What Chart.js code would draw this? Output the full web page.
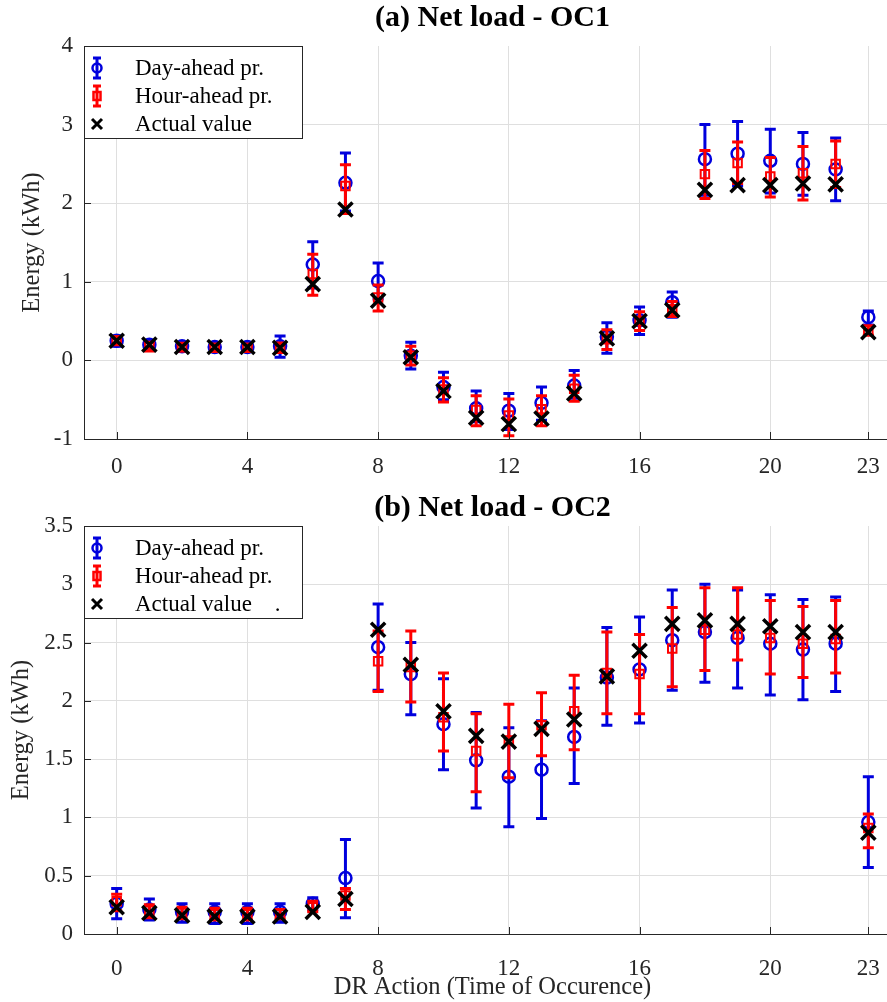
<!DOCTYPE html>
<html>
<head>
<meta charset="utf-8">
<script src="https://cdn.jsdelivr.net/npm/chart.js@4.4.1/dist/chart.umd.min.js"></script>
<style>
  html, body { margin: 0; padding: 0; background: #fff; overflow: hidden; }
  /* the original figure is cut off at the right, just past x = 23 */
  #wrap { position: relative; width: 887px; height: 1002px; overflow: hidden; }
  .panel { position: absolute; left: 0; width: 905px; }
  #panelA { top: 0; height: 500px; }
  #panelB { top: 480px; height: 522px; }
</style>
</head>
<body>
<div id="wrap">
  <div class="panel" id="panelA"><canvas id="chartA" width="905" height="500"></canvas></div>
  <div class="panel" id="panelB"><canvas id="chartB" width="905" height="522"></canvas></div>
</div>
<script>
// ─── data ─────────────────────────────────────────────
const HOURS   = [0, 1, 2, 3, 4, 5, 6, 7, 8, 9, 10, 11, 12, 13, 14, 15, 16, 17, 18, 19, 20, 21, 22, 23];
const X_TICKS = [0, 4, 8, 12, 16, 20, 23];
const LABELS_A = ['Day-ahead pr.', 'Hour-ahead pr.', 'Actual value'];
const LABELS_B = ['Day-ahead pr.', 'Hour-ahead pr.', 'Actual value    .'];

// (a) OC1
const OC1_DAY     = [0.25, 0.20, 0.18, 0.17, 0.17, 0.18, 1.22, 2.26, 1.01, 0.06, -0.34, -0.61, -0.64, -0.54, -0.32, 0.30, 0.51, 0.74, 2.56, 2.63, 2.54, 2.50, 2.43, 0.55];
const OC1_DAY_LO  = [0.18, 0.14, 0.13, 0.12, 0.12, 0.04, 0.92, 1.90, 0.78, -0.11, -0.50, -0.78, -0.88, -0.76, -0.48, 0.09, 0.33, 0.55, 2.10, 2.22, 2.13, 2.10, 2.03, 0.45];
const OC1_DAY_HI  = [0.31, 0.25, 0.23, 0.22, 0.22, 0.31, 1.51, 2.64, 1.24, 0.23, -0.15, -0.39, -0.42, -0.34, -0.13, 0.48, 0.68, 0.87, 3.00, 3.04, 2.94, 2.90, 2.83, 0.63];
const OC1_HOUR    = [0.25, 0.18, 0.17, 0.16, 0.16, 0.16, 1.10, 2.22, 0.80, 0.06, -0.37, -0.63, -0.70, -0.62, -0.36, 0.27, 0.50, 0.65, 2.37, 2.51, 2.34, 2.38, 2.50, 0.38];
const OC1_HOUR_LO = [0.20, 0.12, 0.12, 0.12, 0.12, 0.10, 0.83, 1.87, 0.63, -0.06, -0.53, -0.83, -0.96, -0.83, -0.52, 0.14, 0.38, 0.56, 2.06, 2.25, 2.08, 2.04, 2.20, 0.32];
const OC1_HOUR_HI = [0.30, 0.23, 0.21, 0.20, 0.20, 0.22, 1.35, 2.49, 0.96, 0.18, -0.22, -0.45, -0.49, -0.45, -0.19, 0.39, 0.62, 0.75, 2.67, 2.78, 2.58, 2.72, 2.79, 0.44];
const OC1_ACTUAL  = [0.25, 0.20, 0.17, 0.17, 0.17, 0.16, 0.97, 1.92, 0.76, 0.04, -0.39, -0.73, -0.81, -0.74, -0.42, 0.28, 0.50, 0.64, 2.17, 2.23, 2.23, 2.25, 2.24, 0.36];

// (b) OC2
const OC2_DAY     = [0.26, 0.21, 0.19, 0.19, 0.19, 0.19, 0.26, 0.48, 2.46, 2.23, 1.80, 1.49, 1.35, 1.41, 1.69, 2.20, 2.27, 2.52, 2.59, 2.54, 2.49, 2.44, 2.49, 0.96];
const OC2_DAY_LO  = [0.13, 0.12, 0.10, 0.09, 0.09, 0.10, 0.21, 0.14, 2.09, 1.88, 1.41, 1.08, 0.92, 0.99, 1.29, 1.79, 1.81, 2.09, 2.16, 2.11, 2.05, 2.01, 2.08, 0.57];
const OC2_DAY_HI  = [0.39, 0.30, 0.26, 0.26, 0.26, 0.26, 0.31, 0.81, 2.83, 2.50, 2.19, 1.90, 1.77, 1.83, 2.11, 2.63, 2.72, 2.95, 3.00, 2.95, 2.91, 2.87, 2.89, 1.35];
const OC2_HOUR    = [0.28, 0.20, 0.18, 0.17, 0.17, 0.17, 0.23, 0.33, 2.34, 2.29, 1.86, 1.57, 1.66, 1.79, 1.91, 2.24, 2.23, 2.45, 2.61, 2.57, 2.54, 2.49, 2.53, 0.91];
const OC2_HOUR_LO = [0.20, 0.14, 0.13, 0.12, 0.12, 0.13, 0.19, 0.21, 2.08, 1.99, 1.57, 1.22, 1.34, 1.53, 1.58, 1.89, 1.89, 2.12, 2.26, 2.35, 2.23, 2.20, 2.24, 0.74];
const OC2_HOUR_HI = [0.34, 0.25, 0.23, 0.22, 0.22, 0.21, 0.28, 0.39, 2.60, 2.60, 2.24, 1.89, 1.97, 2.07, 2.22, 2.59, 2.57, 2.80, 2.97, 2.97, 2.86, 2.81, 2.86, 1.03];
const OC2_ACTUAL  = [0.23, 0.18, 0.16, 0.15, 0.15, 0.15, 0.19, 0.30, 2.61, 2.31, 1.91, 1.70, 1.65, 1.76, 1.84, 2.21, 2.43, 2.66, 2.69, 2.66, 2.64, 2.59, 2.59, 0.87];

// ─── style ────────────────────────────────────────────
const FONT  = 'Liberation Serif';
const INK   = '#262626';
const GRID  = '#dfdfdf';
const BLUE  = '#0000dd';
const RED   = '#ff0000';
const BLACK = '#000000';
const CAP   = 5.5;   // half width of error-bar caps

// error bars drawn under each dataset's own markers (MATLAB errorbar look)
const errorBars = {
  id: 'errorBars',
  beforeDatasetDraw(chart, args) {
    const ds = chart.data.datasets[args.index];
    if (!ds.errLow) return;
    const { ctx, scales: { x, y } } = chart;
    ctx.save();
    ctx.strokeStyle = ds.pointBorderColor;
    ctx.lineWidth = 3;
    ctx.beginPath();
    ds.data.forEach((p, i) => {
      const px = x.getPixelForValue(p.x);
      const lo = y.getPixelForValue(ds.errLow[i]);
      const hi = y.getPixelForValue(ds.errHigh[i]);
      ctx.moveTo(px, lo); ctx.lineTo(px, hi);
      ctx.moveTo(px - CAP, lo); ctx.lineTo(px + CAP, lo);
      ctx.moveTo(px - CAP, hi); ctx.lineTo(px + CAP, hi);
    });
    ctx.stroke();
    ctx.restore();
  }
};

// MATLAB style tick marks pointing into the axes
const innerTicks = {
  id: 'innerTicks',
  afterDraw(chart) {
    const { ctx, chartArea: a, scales: { x, y } } = chart;
    ctx.save();
    ctx.strokeStyle = INK;
    ctx.lineWidth = 1;
    ctx.beginPath();
    x.ticks.forEach(t => {
      const px = Math.round(x.getPixelForValue(t.value)) + 0.5;
      ctx.moveTo(px, a.bottom); ctx.lineTo(px, a.bottom - 7);
    });
    y.ticks.forEach(t => {
      const py = Math.round(y.getPixelForValue(t.value)) + 0.5;
      ctx.moveTo(a.left, py); ctx.lineTo(a.left + 7, py);
    });
    ctx.stroke();
    ctx.restore();
  }
};

// boxed legend in the top-left corner of the axes
function glyph(ctx, kind, cx, cy) {
  ctx.save();
  if (kind === 'crossRot') {
    ctx.strokeStyle = BLACK; ctx.lineWidth = 3;
    ctx.beginPath();
    ctx.moveTo(cx - 5, cy - 5); ctx.lineTo(cx + 5, cy + 5);
    ctx.moveTo(cx + 5, cy - 5); ctx.lineTo(cx - 5, cy + 5);
    ctx.stroke();
  } else {
    const col = kind === 'circle' ? BLUE : RED;
    ctx.strokeStyle = col; ctx.lineWidth = 3;
    ctx.beginPath();
    ctx.moveTo(cx, cy - 10); ctx.lineTo(cx, cy + 10);
    ctx.moveTo(cx - 4, cy - 10); ctx.lineTo(cx + 4, cy - 10);
    ctx.moveTo(cx - 4, cy + 10); ctx.lineTo(cx + 4, cy + 10);
    ctx.stroke();
    ctx.lineWidth = 2.5;
    ctx.beginPath();
    if (kind === 'circle') ctx.arc(cx, cy, 4.5, 0, Math.PI * 2);
    else ctx.rect(cx - 3.5, cy - 4, 7, 8);
    ctx.stroke();
  }
  ctx.restore();
}

const boxLegend = {
  id: 'boxLegend',
  afterDraw(chart) {
    const { ctx, chartArea: a } = chart;
    const left = a.left, top = a.top, w = 218, h = 92;
    ctx.save();
    ctx.fillStyle = '#fff';
    ctx.fillRect(left, top, w, h);
    ctx.strokeStyle = INK;
    ctx.lineWidth = 1;
    ctx.strokeRect(left + 0.5, top + 0.5, w, h);
    ctx.font = '23px "' + FONT + '"';
    ctx.fillStyle = BLACK;
    ctx.textBaseline = 'middle';
    chart.data.datasets.forEach((ds, i) => {
      const cy = top + 22 + i * 28;
      glyph(ctx, ds.pointStyle, left + 13, cy);
      ctx.fillText(ds.label, left + 51, cy + 1);
    });
    ctx.restore();
  }
};

function pts(vals) {
  return HOURS.map((h, i) => ({ x: h, y: vals[i] }));
}

function makeDatasets(labels, day, dayLo, dayHi, hour, hourLo, hourHi, actual) {
  return [
    {
      label: labels[0], data: pts(day), errLow: dayLo, errHigh: dayHi, order: 3,
      pointStyle: 'circle', pointRadius: 6, pointBorderWidth: 2.5,
      pointBorderColor: BLUE, pointBackgroundColor: 'rgba(0,0,0,0)'
    },
    {
      label: labels[1], data: pts(hour), errLow: hourLo, errHigh: hourHi, order: 2,
      pointStyle: 'rect', pointRadius: 6, pointBorderWidth: 2,
      pointBorderColor: RED, pointBackgroundColor: 'rgba(0,0,0,0)'
    },
    {
      label: labels[2], data: pts(actual), order: 1,
      pointStyle: 'crossRot', pointRadius: 10, pointBorderWidth: 3.5,
      pointBorderColor: BLACK, pointBackgroundColor: BLACK
    }
  ];
}

function makeOptions({ title, titlePad, yMin, yMax, yStep, yTitlePad, xHeight, xTickGap, xTitle }) {
  const tickFont  = { family: FONT, size: 23 };
  const titleFont = { family: FONT, size: 24.5 };
  return {
    responsive: false,
    animation: false,
    layout: { autoPadding: false, padding: { left: 0, right: 4, top: 0, bottom: 0 } },
    plugins: {
      legend: { display: false },
      tooltip: { enabled: false },
      title: {
        display: true, text: title, fullSize: false, color: BLACK,
        font: { family: FONT, size: 30, weight: 'bold' },
        padding: titlePad
      }
    },
    scales: {
      x: {
        type: 'linear', min: -1, max: 24,
        afterBuildTicks: (axis) => { axis.ticks = X_TICKS.map(v => ({ value: v })); },
        afterFit: (axis) => { axis.height = xHeight; },
        // the gap under the axis comes from an invisible tick mark
        ticks: { color: INK, font: tickFont, padding: 0, maxRotation: 0, autoSkip: false, callback: (v) => String(v) },
        grid: { color: GRID, drawTicks: true, tickLength: xTickGap, tickColor: 'rgba(0,0,0,0)' },
        border: { color: INK, width: 1 },
        title: xTitle
          ? { display: true, text: xTitle, color: INK, font: titleFont, padding: { top: 0, bottom: 0 } }
          : { display: false }
      },
      y: {
        min: yMin, max: yMax,
        afterFit: (axis) => { axis.width = 84; },
        ticks: { stepSize: yStep, color: INK, font: tickFont, padding: 11, callback: (v) => String(v) },
        grid: {
          drawTicks: false,
          color: (c) => (c.tick && c.tick.value === yMax) ? 'rgba(0,0,0,0)' : GRID
        },
        border: { color: INK, width: 1 },
        title: {
          display: true, text: 'Energy (kWh)', color: INK, font: titleFont,
          padding: { top: yTitlePad, bottom: 0 }
        }
      }
    }
  };
}

new Chart(document.getElementById('chartA'), {
  type: 'scatter',
  data: {
    datasets: makeDatasets(LABELS_A, OC1_DAY, OC1_DAY_LO, OC1_DAY_HI,
      OC1_HOUR, OC1_HOUR_LO, OC1_HOUR_HI, OC1_ACTUAL)
  },
  options: makeOptions({
    title: '(a) Net load - OC1', titlePad: { top: 0, bottom: 10 },
    yMin: -1, yMax: 4, yStep: 1, yTitlePad: 18, xHeight: 61, xTickGap: 14, xTitle: null
  }),
  plugins: [errorBars, innerTicks, boxLegend]
});

new Chart(document.getElementById('chartB'), {
  type: 'scatter',
  data: {
    datasets: makeDatasets(LABELS_B, OC2_DAY, OC2_DAY_LO, OC2_DAY_HI,
      OC2_HOUR, OC2_HOUR_LO, OC2_HOUR_HI, OC2_ACTUAL)
  },
  options: makeOptions({
    title: '(b) Net load - OC2', titlePad: { top: 10, bottom: 0 },
    yMin: 0, yMax: 3.5, yStep: 0.5, yTitlePad: 7, xHeight: 68, xTickGap: 21,
    xTitle: 'DR Action (Time of Occurence)'
  }),
  plugins: [errorBars, innerTicks, boxLegend]
});
</script>
</body>
</html>
